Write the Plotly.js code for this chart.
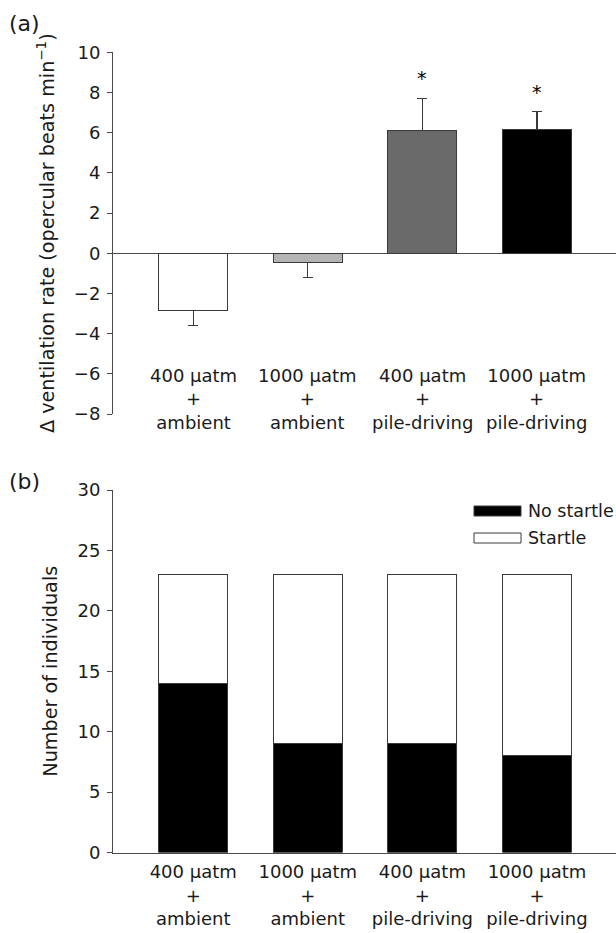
<!DOCTYPE html>
<html>
<head>
<meta charset="utf-8">
<script src="https://cdn.plot.ly/plotly-3.0.1.min.js"></script>
<style>html,body{margin:0;padding:0;background:#fff;}#chart{width:616px;height:933px;}</style>
</head>
<body>
<div id="chart"></div>
<script>
// ---- data ----
var categories = ["400 μatm + ambient", "1000 μatm + ambient", "400 μatm + pile-driving", "1000 μatm + pile-driving"];
var tickLabels = ["400 μatm<br>+<br>ambient", "1000 μatm<br>+<br>ambient", "400 μatm<br>+<br>pile-driving", "1000 μatm<br>+<br>pile-driving"];
var ventMean = [-2.86, -0.47, 6.12, 6.17];
var ventErrUp = [0, 0, 1.60, 0.88];
var ventErrDown = [0.72, 0.74, 0, 0];
var ventSignif = ["", "", "*", "*"];
var noStartle = [14, 9, 9, 8];
var startle = [9, 14, 14, 15];
var ventColors = ["#ffffff", "#b4b4b4", "#6a6a6a", "#000000"];
var topTicks = [-8, -6, -4, -2, 0, 2, 4, 6, 8, 10];
var bottomTicks = [0, 5, 10, 15, 20, 25, 30];
var legendNames = ["No startle", "Startle"];
var legendColors = ["#000000", "#ffffff"];

// ---- layout constants ----
var W = 616, H = 933, ML = 113, MR = 0;
var FONT = "DejaVu Sans, sans-serif";
var LINE = "#4a4a4a";
var TXT = "#1a1a1a";
function py(px) { return 1 - px / H; }
function pxX(px) { return (px - ML) / (W - ML - MR); }

var traces = [
  {
    type: "bar", x: categories, y: ventMean, xaxis: "x", yaxis: "y",
    width: 0.6, showlegend: false,
    marker: {color: ventColors, line: {color: "#3a3a3a", width: 1}},
    error_y: {type: "data", symmetric: false, array: ventErrUp, arrayminus: ventErrDown,
              color: "#3a3a3a", thickness: 1.2, width: 5}
  },
  {
    type: "bar", x: categories, y: noStartle, xaxis: "x2", yaxis: "y2", name: legendNames[0],
    width: 0.6, showlegend: false,
    marker: {color: legendColors[0], line: {color: "#3a3a3a", width: 1}}
  },
  {
    type: "bar", x: categories, y: startle, xaxis: "x2", yaxis: "y2", name: legendNames[1],
    width: 0.6, showlegend: false,
    marker: {color: legendColors[1], line: {color: "#3a3a3a", width: 1}}
  }
];

var annotations = [];
// panel labels
annotations.push({xref: "paper", yref: "paper", x: pxX(7), y: py(23), xanchor: "left", yanchor: "middle",
  text: "(a)", showarrow: false, font: {family: FONT, size: 22, color: TXT}});
annotations.push({xref: "paper", yref: "paper", x: pxX(7), y: py(481), xanchor: "left", yanchor: "middle",
  text: "(b)", showarrow: false, font: {family: FONT, size: 22, color: TXT}});
// top panel category labels (drawn inside the negative region as in the original)
for (var i = 0; i < categories.length; i++) {
  annotations.push({xref: "x", yref: "y domain", x: categories[i], y: 0.14, xanchor: "center", yanchor: "top",
    text: tickLabels[i], showarrow: false, font: {family: FONT, size: 18, color: TXT}});
  if (ventSignif[i]) {
    annotations.push({xref: "x", yref: "y", x: categories[i], y: ventMean[i] + ventErrUp[i],
      xanchor: "center", yanchor: "bottom", yshift: 7,
      text: ventSignif[i], showarrow: false, font: {family: FONT, size: 19, color: "#000000"}});
  }
}
// legend for panel b
var legY = [511, 538];
var shapes = [];
for (var k = 0; k < legendNames.length; k++) {
  shapes.push({type: "rect", xref: "paper", yref: "paper",
    x0: pxX(474), x1: pxX(521), y0: py(legY[k] + 5), y1: py(legY[k] - 5),
    fillcolor: legendColors[k], line: {color: "#3a3a3a", width: 1}});
  annotations.push({xref: "paper", yref: "paper", x: pxX(526), y: py(legY[k]), xanchor: "left", yanchor: "middle",
    text: legendNames[k], showarrow: false, font: {family: FONT, size: 17.5, color: TXT}});
}

var layout = {
  width: W, height: H,
  margin: {l: ML, r: MR, t: 0, b: 0, pad: 0},
  paper_bgcolor: "#ffffff", plot_bgcolor: "#ffffff",
  barmode: "stack",
  showlegend: false,
  font: {family: FONT, size: 18, color: TXT},
  xaxis: {domain: [0, 1], anchor: "y", type: "category", range: [-0.7, 3.69],
    showline: false, ticks: "", showticklabels: false, showgrid: false, zeroline: false, fixedrange: true},
  yaxis: {domain: [py(414), py(52.4)], anchor: "x", range: [-8, 10], tickvals: topTicks,
    showline: true, linecolor: LINE, linewidth: 1, ticks: "outside", ticklen: 5, tickcolor: LINE,
    ticklabelstandoff: 3,
    showgrid: false, zeroline: true, zerolinecolor: LINE, zerolinewidth: 1,
    tickfont: {family: FONT, size: 18, color: TXT},
    title: {text: "Δ ventilation rate (opercular beats min<sup>−1</sup>)", standoff: 14,
      font: {family: FONT, size: 19.2, color: TXT}}},
  xaxis2: {domain: [0, 1], anchor: "y2", type: "category", range: [-0.7, 3.69],
    tickvals: categories, ticktext: tickLabels, ticklabelstandoff: 3,
    showline: true, linecolor: LINE, linewidth: 1, ticks: "", showgrid: false, zeroline: false,
    tickfont: {family: FONT, size: 18, color: TXT}},
  yaxis2: {domain: [py(852.5), py(490)], anchor: "x2", range: [0, 30], tickvals: bottomTicks,
    showline: true, linecolor: LINE, linewidth: 1, ticks: "outside", ticklen: 5, tickcolor: LINE,
    ticklabelstandoff: 3,
    showgrid: false, zeroline: false,
    tickfont: {family: FONT, size: 18, color: TXT},
    title: {text: "Number of individuals", standoff: 14, font: {family: FONT, size: 19.2, color: TXT}}},
  annotations: annotations,
  shapes: shapes
};

Plotly.newPlot("chart", traces, layout, {staticPlot: true, displayModeBar: false});
</script>
</body>
</html>
